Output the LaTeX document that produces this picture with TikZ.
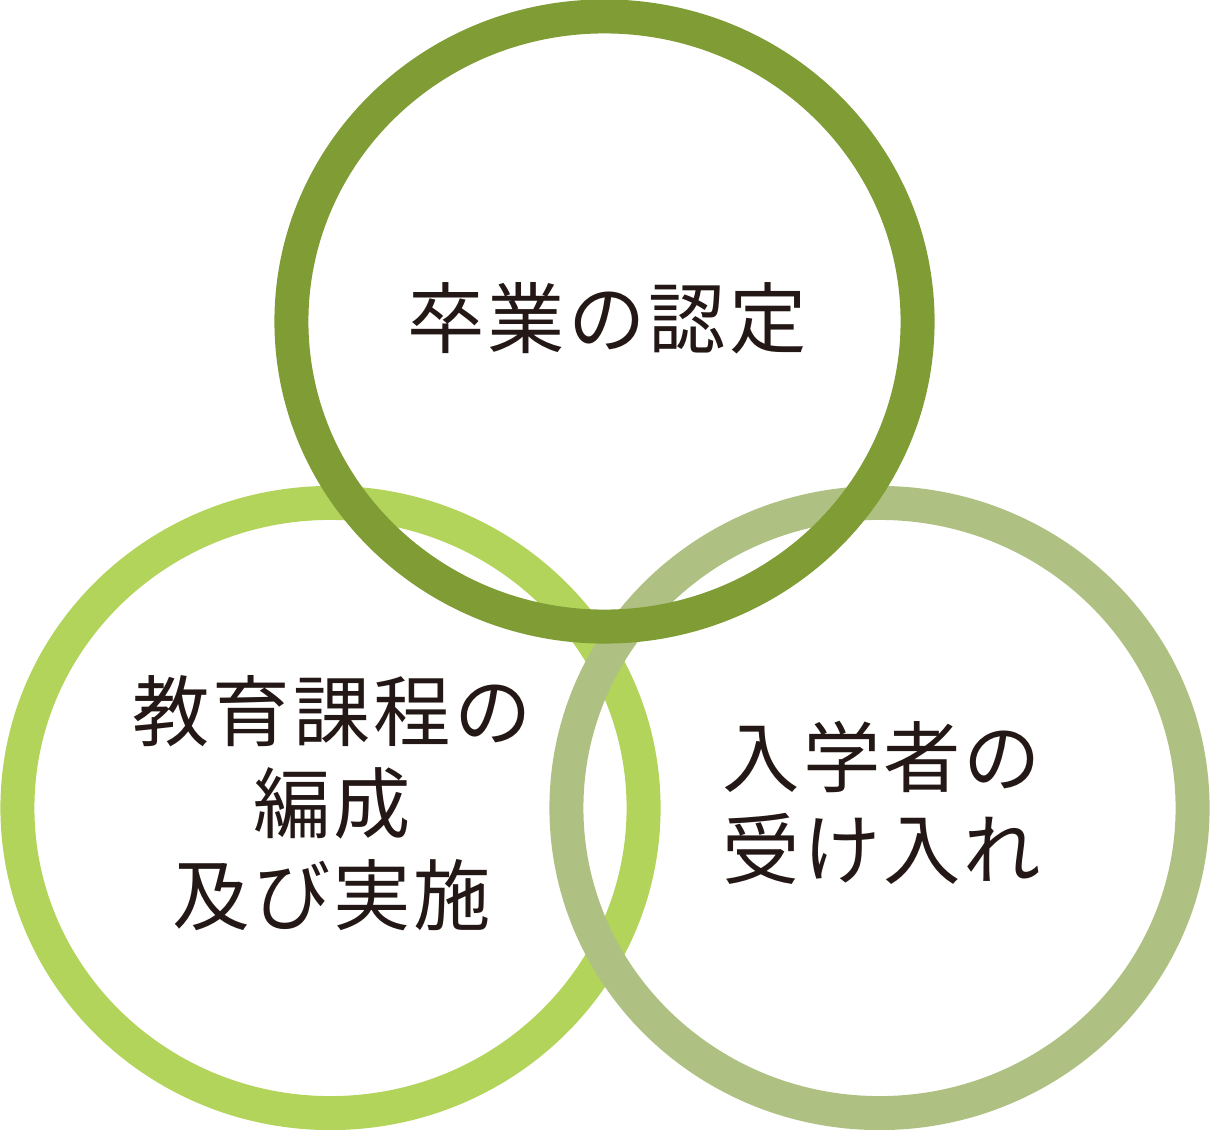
\documentclass[tikz,border=0pt]{standalone}
\usepackage{fontspec}
\newfontfamily\jpfont[LetterSpace=4]{Noto Sans CJK JP}
\usepackage{tikz}
\definecolor{ringtop}{HTML}{7F9C35}
\definecolor{ringleft}{HTML}{B3D45B}
\definecolor{ringright}{HTML}{AFC182}
\definecolor{inktext}{HTML}{231815}
\tikzset{
  ring/.style={line width=0.85cm},
  label/.style={text=inktext, align=center, inner sep=0pt,
    font=\jpfont\fontsize{55}{65.5}\selectfont}
}

\begin{document}
\begin{tikzpicture}[x=0.025cm, y=-0.025cm]
\useasboundingbox (0,0) rectangle (1210,1130);

\coordinate (top) at (604.5,321.5);
\coordinate (left) at (330.5,808);
\coordinate (right) at (879.5,808);

\draw [ring, ringleft] (left) ellipse [x radius=7.825cm, y radius=7.625cm];
\draw [ring, ringright] (right) ellipse [x radius=7.825cm, y radius=7.625cm];
\draw [ring, ringtop] (top) ellipse [x radius=7.825cm, y radius=7.625cm];

\node [label] (graduation) at (607,318) {卒業の認定};
\node [label] (curriculum) at (332,803) {教育課程の\\編成\\及び実施};
\node [label] (admission) at (882,803) {入学者の\\受け入れ};
\end{tikzpicture}
\end{document}
